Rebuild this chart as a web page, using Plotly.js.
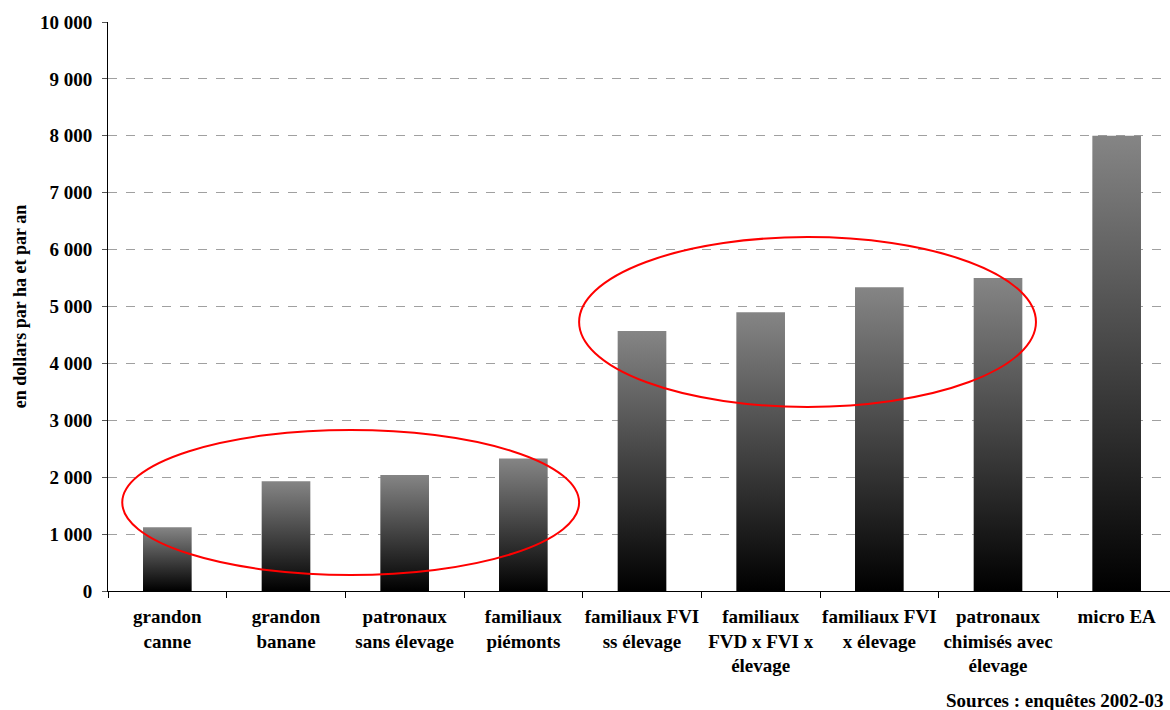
<!DOCTYPE html>
<html>
<head>
<meta charset="utf-8">
<script src="https://cdn.plot.ly/plotly-3.0.1.min.js"></script>
<style>html,body{margin:0;padding:0;overflow:hidden;background:#fff;}</style>
</head>
<body>
<div id="chart" style="width:1176px;height:710px;"></div>
<script>
const categories = ["grandon<br>canne", "grandon<br>banane", "patronaux<br>sans élevage", "familiaux<br>piémonts",
  "familiaux FVI<br>ss élevage", "familiaux<br>FVD x FVI x<br>élevage", "familiaux FVI<br>x élevage",
  "patronaux<br>chimisés avec<br>élevage", "micro EA"];
const values = [1120, 1930, 2040, 2330, 4570, 4900, 5340, 5500, 8000];
const yTicks = [0, 1000, 2000, 3000, 4000, 5000, 6000, 7000, 8000, 9000, 10000];
const yTickText = ["0", "1 000", "2 000", "3 000", "4 000", "5 000", "6 000", "7 000", "8 000", "9 000", "10 000"];

const half = 0.205;
const font = "Liberation Serif, Times New Roman, serif";
const traces = values.map((v, i) => ({
  type: 'scatter', mode: 'lines',
  x: [i - half, i + half, i + half, i - half, i - half],
  y: [0, 0, v, v, 0],
  fill: 'toself',
  fillgradient: {type: 'vertical', colorscale: [[0, '#000000'], [1, '#858585']]},
  line: {width: 0, color: 'rgba(0,0,0,0)'},
  hoverinfo: 'skip', showlegend: false
}));

const ellipses = [
  {x0: -0.38, x1: 3.47, y0: 280, y1: 2830},
  {x0: 3.47, x1: 7.32, y0: 3235, y1: 6220}
].map(e => ({type: 'circle', xref: 'x', yref: 'y', x0: e.x0, x1: e.x1, y0: e.y0, y1: e.y1,
  line: {color: '#ff0000', width: 2}, fillcolor: 'rgba(0,0,0,0)', layer: 'above'}));

const layout = {
  width: 1176, height: 710,
  margin: {l: 108, r: 0, t: 22, b: 119, pad: 0},
  paper_bgcolor: '#fff', plot_bgcolor: '#fff',
  font: {family: font, size: 19, color: '#000'},
  showlegend: false,
  xaxis: {
    range: [-0.5, 8.5], tickmode: 'array', tickvals: categories.map((c, i) => i), ticktext: categories,
    ticks: '', showgrid: false, zeroline: false, showline: true, linecolor: '#000', linewidth: 1,
    tickfont: {family: font, size: 19, color: '#000', weight: 'bold'},
    ticklabelstandoff: 8,
    minor: {tickmode: 'linear', tick0: -0.5, dtick: 1, ticks: 'outside', ticklen: 6, tickcolor: '#000', showgrid: false},
    fixedrange: true
  },
  yaxis: {
    range: [0, 10000], tickmode: 'array', tickvals: yTicks, ticktext: yTickText,
    ticks: 'outside', ticklen: 5, tickcolor: '#555',
    ticklabelstandoff: 6,
    showgrid: true, gridcolor: '#a0a0a0', griddash: 'dash', gridwidth: 1,
    zeroline: false, showline: true, linecolor: '#000', linewidth: 1,
    tickfont: {family: font, size: 19, color: '#000', weight: 'bold'},
    title: {text: 'en dollars par ha et par an', font: {family: font, size: 18, color: '#000', weight: 'bold'}, standoff: 8},
    fixedrange: true
  },
  shapes: ellipses,
  annotations: [{
    text: 'Sources : enquêtes 2002-03', xref: 'paper', yref: 'paper', x: 0.7828, y: -0.1925,
    xanchor: 'left', yanchor: 'middle', showarrow: false,
    font: {family: font, size: 19, color: '#000', weight: 'bold'}
  }]
};

Plotly.newPlot('chart', traces, layout, {displayModeBar: false, staticPlot: true});
</script>
</body>
</html>
